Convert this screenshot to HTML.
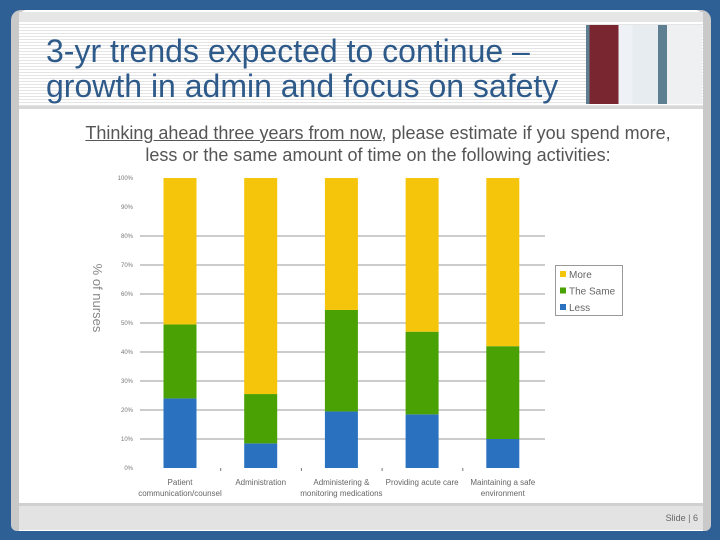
<!DOCTYPE html>
<html><head><meta charset="utf-8"><style>
body{margin:0;width:720px;height:540px;background:#2e5f95;overflow:hidden;font-family:"Liberation Sans",sans-serif}
#card{position:absolute;left:11px;top:10px;width:700px;height:521px;background:#c9c9c9;border-radius:10px 10px 6px 6px}
#inner{position:absolute;left:8px;top:0;width:684px;height:521px;background:#fff;border-radius:8px 8px 0 0}
#hdr{position:absolute;left:19px;top:12px;width:684px;height:96px;background:repeating-linear-gradient(#fff 0 2px,#e4e4e4 2px 3px);border-top:10px solid #e6e6e6;box-sizing:border-box}
#title{position:absolute;left:46px;top:34px;font-size:32px;line-height:35px;color:#2e5a8a}
#photo{position:absolute;left:586px;top:25px;width:116px;height:79px;background:linear-gradient(90deg,#5e7e92 0 3%,#7a2630 3% 28%,#eef2f6 28% 40%,#e6ecf0 40% 62%,#5e7e92 62% 70%,#eef0f2 70%);}
#hdrline{position:absolute;left:19px;top:106px;width:684px;height:3px;background:#d8d8d8}
#sub{position:absolute;left:18px;top:122px;width:720px;text-align:center;font-size:18px;line-height:22px;color:#555}
#foot{position:absolute;left:19px;top:503px;width:684px;height:27px;background:#e3e3e3;border-top:3px solid #d0d0d0;box-sizing:border-box}
#slide{position:absolute;right:22px;top:513px;font-size:9px;color:#666}
</style></head><body>
<div id="card"><div id="inner"></div></div>
<div id="hdr"></div>
<div id="hdrline"></div>
<div id="title">3-yr trends expected to continue –<br>growth in admin and focus on safety</div>
<div id="photo"></div>
<div id="sub"><u>Thinking ahead three years from now</u>, please estimate if you spend more,<br>less or the same amount of time on the following activities:</div>
<svg id="chart" width="720" height="540" style="position:absolute;left:0;top:0"></svg>
<div id="foot"></div>
<div id="slide">Slide | 6</div>
<script>
const categories=[["Patient","communication/counsel"],["Administration",""],["Administering &","monitoring medications"],["Providing acute care",""],["Maintaining a safe","environment"]];
const lessVals=[24,8.5,19.5,18.5,10];
const sameVals=[25.5,17,35,28.5,32];
const moreVals=[50.5,74.5,45.5,53,58];
const yTicks=[0,10,20,30,40,50,60,70,80,90,100];
const seriesNames=["More","The Same","Less"];
const colors={less:"#2a72c0",same:"#4aa103",more:"#f4c50a"};
const svg=document.getElementById('chart');const NS="http://www.w3.org/2000/svg";
function mk(t,a,p){const e=document.createElementNS(NS,t);for(const k in a)e.setAttribute(k,a[k]);(p||svg).appendChild(e);return e;}
const y0=468,y1=178,xL=136,xR=545;
const y=v=>y0-(v/100)*(y0-y1);
yTicks.forEach(t=>{
 if(t>=10&&t<=80){const l=mk('line',{x1:xL+4,x2:xR,y1:y(t),y2:y(t),stroke:'#777','stroke-width':0.8});}
 const tx=mk('text',{x:133,y:y(t)+2,'text-anchor':'end','font-size':6,fill:'#777'});tx.textContent=t+'%';
 
});
const bw=33;
categories.forEach((c,i)=>{
 const cx=180+(i)*80.7;
 const segs=[[0,lessVals[i],colors.less,'less'],[lessVals[i],lessVals[i]+sameVals[i],colors.same,'same'],[lessVals[i]+sameVals[i],lessVals[i]+sameVals[i]+moreVals[i],colors.more,'more']];
 segs.forEach(s=>{const r=mk('rect',{x:cx-bw/2,y:y(s[1]),width:bw,height:y(s[0])-y(s[1]),fill:s[2]});
  });
 c.forEach((ln,j)=>{if(!ln)return;const t=mk('text',{x:cx,y:485+j*11,'text-anchor':'middle','font-size':8,fill:'#666'});t.textContent=ln;
  });
 if(i>0){const tk=mk('line',{x1:cx-40,x2:cx-40,y1:468,y2:471,stroke:'#777'});}
});
const yt=mk('text',{transform:'translate(93,298) rotate(90)','text-anchor':'middle','font-size':13,fill:'#888'});yt.textContent='% of nurses';

const lg=mk('rect',{x:555.5,y:265.5,width:67,height:50,fill:'#fff',stroke:'#999'});
const lc=[colors.more,colors.same,colors.less];
seriesNames.forEach((n,i)=>{const r=mk('rect',{x:560,y:271+i*16.5,width:6,height:6,fill:lc[i]});
 const t=mk('text',{x:569,y:278+i*16.5,'font-size':10,fill:'#666'});t.textContent=n;});
</script>
</body></html>
